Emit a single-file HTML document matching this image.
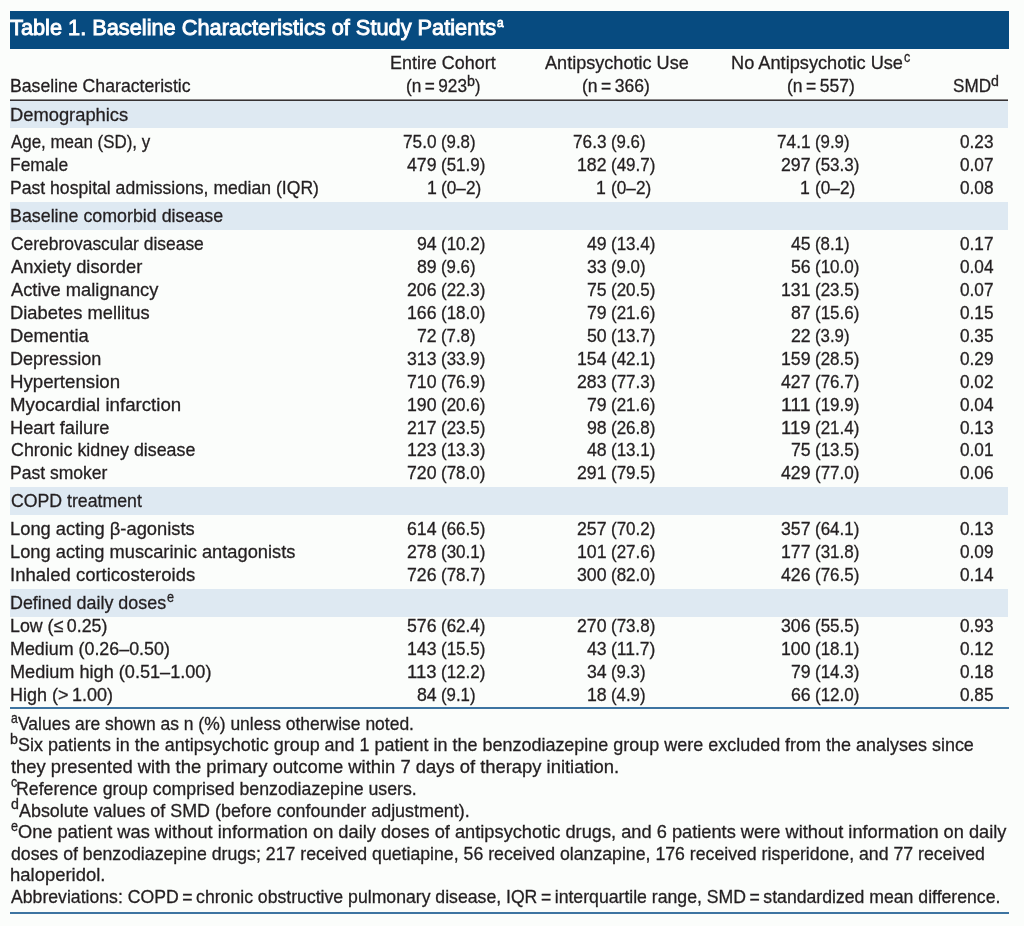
<!DOCTYPE html>
<html><head><meta charset="utf-8"><title>Table 1</title><style>
html,body{margin:0;padding:0;}
body{width:1024px;height:926px;position:relative;overflow:hidden;background:#fbfdfb;font-family:"Liberation Sans",sans-serif;color:#231f20;}
#root{position:absolute;left:0;top:0;width:1024px;height:926px;will-change:transform;}
.t{position:absolute;white-space:pre;transform-origin:0 0;-webkit-text-stroke:0.3px #231f20;}
.ti{-webkit-text-stroke:0.9px #ffffff;}
.bar{position:absolute;left:10px;top:11px;width:999px;height:38px;background:#074b80;}
.band{position:absolute;left:10px;width:998px;background:#dee9f2;}
.rule{position:absolute;left:10px;width:998px;}
</style></head>
<body>
<div id="root">

<div class="bar"></div>
<div class="rule" style="top:99px;height:1px;background:#8a8889;"></div>
<div class="rule" style="top:100px;height:1px;background:#363233;"></div>
<div class="band" style="top:101px;height:27px;"></div>
<div class="band" style="top:202px;height:28px;"></div>
<div class="band" style="top:487px;height:28px;"></div>
<div class="band" style="top:589px;height:28px;"></div>
<div class="rule" style="top:707px;height:2px;width:999px;background:#3d74a1;"></div>
<div class="rule" style="top:912px;height:2px;width:999px;background:#3d74a1;"></div>

<div class="t ti" style="left:10.20px;top:17.00px;font-size:21.6px;line-height:21.6px;transform:scaleX(1.0076);color:#ffffff;"><span style="font-size:21.6px;">Table 1. Baseline Characteristics of Study Patients</span></div>
<div class="t ti" style="left:496.90px;top:16.20px;font-size:13.5px;line-height:13.5px;transform:scaleX(0.8782);color:#ffffff;"><span style="font-size:13.5px;">a</span></div>
<div class="t" style="left:389.59px;top:54.30px;font-size:18.6px;line-height:18.6px;transform:scaleX(0.9641);"><span style="font-size:18.6px;">Entire Cohort</span></div>
<div class="t" style="left:544.51px;top:54.30px;font-size:18.6px;line-height:18.6px;transform:scaleX(0.9730);"><span style="font-size:18.6px;">Antipsychotic Use</span></div>
<div class="t" style="left:731.31px;top:54.30px;font-size:18.6px;line-height:18.6px;transform:scaleX(0.9790);"><span style="font-size:18.6px;">No Antipsychotic Use</span></div>
<div class="t" style="left:903.57px;top:51.10px;font-size:13.9px;line-height:13.9px;transform:scaleX(0.9020);"><span style="font-size:13.9px;">c</span></div>
<div class="t" style="left:9.85px;top:77.40px;font-size:18.6px;line-height:18.6px;transform:scaleX(0.9494);"><span style="font-size:18.6px;">Baseline Characteristic</span></div>
<div class="t" style="left:405.60px;top:77.40px;font-size:18.6px;line-height:18.6px;transform:scaleX(0.9262);"><span style="font-size:18.6px;">(n = 923</span></div>
<div class="t" style="left:467.28px;top:74.60px;font-size:13.9px;line-height:13.9px;transform:scaleX(1.0299);"><span style="font-size:13.9px;">b</span></div>
<div class="t" style="left:474.80px;top:77.40px;font-size:18.6px;line-height:18.6px;transform:scaleX(0.8790);"><span style="font-size:18.6px;">)</span></div>
<div class="t" style="left:581.94px;top:77.40px;font-size:18.6px;line-height:18.6px;transform:scaleX(0.9426);"><span style="font-size:18.6px;">(n = 366)</span></div>
<div class="t" style="left:786.79px;top:77.40px;font-size:18.6px;line-height:18.6px;transform:scaleX(0.9426);"><span style="font-size:18.6px;">(n = 557)</span></div>
<div class="t" style="left:953.00px;top:77.40px;font-size:18.6px;line-height:18.6px;transform:scaleX(0.9195);"><span style="font-size:18.6px;">SMD</span></div>
<div class="t" style="left:991.20px;top:74.55px;font-size:13.9px;line-height:13.9px;transform:scaleX(1.0209);"><span style="font-size:13.9px;">d</span></div>
<div class="t" style="left:10.00px;top:105.60px;font-size:18.6px;line-height:18.6px;transform:scaleX(0.9859);"><span style="font-size:18.6px;">Demographics</span></div>
<div class="t" style="left:11.47px;top:133.20px;font-size:18.6px;line-height:18.6px;transform:scaleX(0.9102);"><span style="font-size:18.6px;">Age, mean (SD), y</span></div>
<div class="t" style="left:402.88px;top:133.20px;font-size:18.6px;line-height:18.6px;transform:scaleX(0.9260);"><span style="font-size:18.6px;">75.0</span></div>
<div class="t" style="left:441.00px;top:133.20px;font-size:18.6px;line-height:18.6px;transform:scaleX(0.9044);"><span style="font-size:18.6px;">(9.8)</span></div>
<div class="t" style="left:572.78px;top:133.20px;font-size:18.6px;line-height:18.6px;transform:scaleX(0.9260);"><span style="font-size:18.6px;">76.3</span></div>
<div class="t" style="left:610.90px;top:133.20px;font-size:18.6px;line-height:18.6px;transform:scaleX(0.9044);"><span style="font-size:18.6px;">(9.6)</span></div>
<div class="t" style="left:776.68px;top:133.20px;font-size:18.6px;line-height:18.6px;transform:scaleX(0.9260);"><span style="font-size:18.6px;">74.1</span></div>
<div class="t" style="left:814.80px;top:133.20px;font-size:18.6px;line-height:18.6px;transform:scaleX(0.9044);"><span style="font-size:18.6px;">(9.9)</span></div>
<div class="t" style="left:959.60px;top:133.20px;font-size:18.6px;line-height:18.6px;transform:scaleX(0.9260);"><span style="font-size:18.6px;">0.23</span></div>
<div class="t" style="left:10.07px;top:156.30px;font-size:18.6px;line-height:18.6px;transform:scaleX(0.9367);"><span style="font-size:18.6px;">Female</span></div>
<div class="t" style="left:406.85px;top:156.30px;font-size:18.6px;line-height:18.6px;transform:scaleX(0.9522);"><span style="font-size:18.6px;">479</span></div>
<div class="t" style="left:441.00px;top:156.30px;font-size:18.6px;line-height:18.6px;transform:scaleX(0.9146);"><span style="font-size:18.6px;">(51.9)</span></div>
<div class="t" style="left:576.75px;top:156.30px;font-size:18.6px;line-height:18.6px;transform:scaleX(0.9522);"><span style="font-size:18.6px;">182</span></div>
<div class="t" style="left:610.90px;top:156.30px;font-size:18.6px;line-height:18.6px;transform:scaleX(0.9146);"><span style="font-size:18.6px;">(49.7)</span></div>
<div class="t" style="left:780.65px;top:156.30px;font-size:18.6px;line-height:18.6px;transform:scaleX(0.9522);"><span style="font-size:18.6px;">297</span></div>
<div class="t" style="left:814.80px;top:156.30px;font-size:18.6px;line-height:18.6px;transform:scaleX(0.9146);"><span style="font-size:18.6px;">(53.3)</span></div>
<div class="t" style="left:959.60px;top:156.30px;font-size:18.6px;line-height:18.6px;transform:scaleX(0.9260);"><span style="font-size:18.6px;">0.07</span></div>
<div class="t" style="left:10.06px;top:179.30px;font-size:18.6px;line-height:18.6px;transform:scaleX(0.9461);"><span style="font-size:18.6px;">Past hospital admissions, median (IQR)</span></div>
<div class="t" style="left:426.55px;top:179.30px;font-size:18.6px;line-height:18.6px;transform:scaleX(0.9522);"><span style="font-size:18.6px;">1</span></div>
<div class="t" style="left:441.00px;top:179.30px;font-size:18.6px;line-height:18.6px;transform:scaleX(0.9259);"><span style="font-size:18.6px;">(0–2)</span></div>
<div class="t" style="left:596.45px;top:179.30px;font-size:18.6px;line-height:18.6px;transform:scaleX(0.9522);"><span style="font-size:18.6px;">1</span></div>
<div class="t" style="left:610.90px;top:179.30px;font-size:18.6px;line-height:18.6px;transform:scaleX(0.9259);"><span style="font-size:18.6px;">(0–2)</span></div>
<div class="t" style="left:800.35px;top:179.30px;font-size:18.6px;line-height:18.6px;transform:scaleX(0.9522);"><span style="font-size:18.6px;">1</span></div>
<div class="t" style="left:814.80px;top:179.30px;font-size:18.6px;line-height:18.6px;transform:scaleX(0.9259);"><span style="font-size:18.6px;">(0–2)</span></div>
<div class="t" style="left:959.60px;top:179.30px;font-size:18.6px;line-height:18.6px;transform:scaleX(0.9260);"><span style="font-size:18.6px;">0.08</span></div>
<div class="t" style="left:10.04px;top:206.80px;font-size:18.6px;line-height:18.6px;transform:scaleX(0.9593);"><span style="font-size:18.6px;">Baseline comorbid disease</span></div>
<div class="t" style="left:10.61px;top:234.50px;font-size:18.6px;line-height:18.6px;transform:scaleX(0.9375);"><span style="font-size:18.6px;">Cerebrovascular disease</span></div>
<div class="t" style="left:416.70px;top:234.50px;font-size:18.6px;line-height:18.6px;transform:scaleX(0.9522);"><span style="font-size:18.6px;">94</span></div>
<div class="t" style="left:441.00px;top:234.50px;font-size:18.6px;line-height:18.6px;transform:scaleX(0.9146);"><span style="font-size:18.6px;">(10.2)</span></div>
<div class="t" style="left:586.60px;top:234.50px;font-size:18.6px;line-height:18.6px;transform:scaleX(0.9522);"><span style="font-size:18.6px;">49</span></div>
<div class="t" style="left:610.90px;top:234.50px;font-size:18.6px;line-height:18.6px;transform:scaleX(0.9146);"><span style="font-size:18.6px;">(13.4)</span></div>
<div class="t" style="left:790.50px;top:234.50px;font-size:18.6px;line-height:18.6px;transform:scaleX(0.9522);"><span style="font-size:18.6px;">45</span></div>
<div class="t" style="left:814.80px;top:234.50px;font-size:18.6px;line-height:18.6px;transform:scaleX(0.9044);"><span style="font-size:18.6px;">(8.1)</span></div>
<div class="t" style="left:959.60px;top:234.50px;font-size:18.6px;line-height:18.6px;transform:scaleX(0.9260);"><span style="font-size:18.6px;">0.17</span></div>
<div class="t" style="left:11.46px;top:257.60px;font-size:18.6px;line-height:18.6px;transform:scaleX(0.9851);"><span style="font-size:18.6px;">Anxiety disorder</span></div>
<div class="t" style="left:416.70px;top:257.60px;font-size:18.6px;line-height:18.6px;transform:scaleX(0.9522);"><span style="font-size:18.6px;">89</span></div>
<div class="t" style="left:441.00px;top:257.60px;font-size:18.6px;line-height:18.6px;transform:scaleX(0.9044);"><span style="font-size:18.6px;">(9.6)</span></div>
<div class="t" style="left:586.60px;top:257.60px;font-size:18.6px;line-height:18.6px;transform:scaleX(0.9522);"><span style="font-size:18.6px;">33</span></div>
<div class="t" style="left:610.90px;top:257.60px;font-size:18.6px;line-height:18.6px;transform:scaleX(0.9044);"><span style="font-size:18.6px;">(9.0)</span></div>
<div class="t" style="left:790.50px;top:257.60px;font-size:18.6px;line-height:18.6px;transform:scaleX(0.9522);"><span style="font-size:18.6px;">56</span></div>
<div class="t" style="left:814.80px;top:257.60px;font-size:18.6px;line-height:18.6px;transform:scaleX(0.9146);"><span style="font-size:18.6px;">(10.0)</span></div>
<div class="t" style="left:959.60px;top:257.60px;font-size:18.6px;line-height:18.6px;transform:scaleX(0.9260);"><span style="font-size:18.6px;">0.04</span></div>
<div class="t" style="left:11.46px;top:280.80px;font-size:18.6px;line-height:18.6px;transform:scaleX(0.9833);"><span style="font-size:18.6px;">Active malignancy</span></div>
<div class="t" style="left:406.85px;top:280.80px;font-size:18.6px;line-height:18.6px;transform:scaleX(0.9522);"><span style="font-size:18.6px;">206</span></div>
<div class="t" style="left:441.00px;top:280.80px;font-size:18.6px;line-height:18.6px;transform:scaleX(0.9146);"><span style="font-size:18.6px;">(22.3)</span></div>
<div class="t" style="left:586.60px;top:280.80px;font-size:18.6px;line-height:18.6px;transform:scaleX(0.9522);"><span style="font-size:18.6px;">75</span></div>
<div class="t" style="left:610.90px;top:280.80px;font-size:18.6px;line-height:18.6px;transform:scaleX(0.9146);"><span style="font-size:18.6px;">(20.5)</span></div>
<div class="t" style="left:780.65px;top:280.80px;font-size:18.6px;line-height:18.6px;transform:scaleX(0.9522);"><span style="font-size:18.6px;">131</span></div>
<div class="t" style="left:814.80px;top:280.80px;font-size:18.6px;line-height:18.6px;transform:scaleX(0.9146);"><span style="font-size:18.6px;">(23.5)</span></div>
<div class="t" style="left:959.60px;top:280.80px;font-size:18.6px;line-height:18.6px;transform:scaleX(0.9260);"><span style="font-size:18.6px;">0.07</span></div>
<div class="t" style="left:10.00px;top:303.90px;font-size:18.6px;line-height:18.6px;transform:scaleX(0.9857);"><span style="font-size:18.6px;">Diabetes mellitus</span></div>
<div class="t" style="left:406.85px;top:303.90px;font-size:18.6px;line-height:18.6px;transform:scaleX(0.9522);"><span style="font-size:18.6px;">166</span></div>
<div class="t" style="left:441.00px;top:303.90px;font-size:18.6px;line-height:18.6px;transform:scaleX(0.9146);"><span style="font-size:18.6px;">(18.0)</span></div>
<div class="t" style="left:586.60px;top:303.90px;font-size:18.6px;line-height:18.6px;transform:scaleX(0.9522);"><span style="font-size:18.6px;">79</span></div>
<div class="t" style="left:610.90px;top:303.90px;font-size:18.6px;line-height:18.6px;transform:scaleX(0.9146);"><span style="font-size:18.6px;">(21.6)</span></div>
<div class="t" style="left:790.50px;top:303.90px;font-size:18.6px;line-height:18.6px;transform:scaleX(0.9522);"><span style="font-size:18.6px;">87</span></div>
<div class="t" style="left:814.80px;top:303.90px;font-size:18.6px;line-height:18.6px;transform:scaleX(0.9146);"><span style="font-size:18.6px;">(15.6)</span></div>
<div class="t" style="left:959.60px;top:303.90px;font-size:18.6px;line-height:18.6px;transform:scaleX(0.9260);"><span style="font-size:18.6px;">0.15</span></div>
<div class="t" style="left:9.99px;top:326.80px;font-size:18.6px;line-height:18.6px;transform:scaleX(0.9902);"><span style="font-size:18.6px;">Dementia</span></div>
<div class="t" style="left:416.70px;top:326.80px;font-size:18.6px;line-height:18.6px;transform:scaleX(0.9522);"><span style="font-size:18.6px;">72</span></div>
<div class="t" style="left:441.00px;top:326.80px;font-size:18.6px;line-height:18.6px;transform:scaleX(0.9044);"><span style="font-size:18.6px;">(7.8)</span></div>
<div class="t" style="left:586.60px;top:326.80px;font-size:18.6px;line-height:18.6px;transform:scaleX(0.9522);"><span style="font-size:18.6px;">50</span></div>
<div class="t" style="left:610.90px;top:326.80px;font-size:18.6px;line-height:18.6px;transform:scaleX(0.9146);"><span style="font-size:18.6px;">(13.7)</span></div>
<div class="t" style="left:790.50px;top:326.80px;font-size:18.6px;line-height:18.6px;transform:scaleX(0.9522);"><span style="font-size:18.6px;">22</span></div>
<div class="t" style="left:814.80px;top:326.80px;font-size:18.6px;line-height:18.6px;transform:scaleX(0.9044);"><span style="font-size:18.6px;">(3.9)</span></div>
<div class="t" style="left:959.60px;top:326.80px;font-size:18.6px;line-height:18.6px;transform:scaleX(0.9260);"><span style="font-size:18.6px;">0.35</span></div>
<div class="t" style="left:10.02px;top:349.80px;font-size:18.6px;line-height:18.6px;transform:scaleX(0.9698);"><span style="font-size:18.6px;">Depression</span></div>
<div class="t" style="left:406.85px;top:349.80px;font-size:18.6px;line-height:18.6px;transform:scaleX(0.9522);"><span style="font-size:18.6px;">313</span></div>
<div class="t" style="left:441.00px;top:349.80px;font-size:18.6px;line-height:18.6px;transform:scaleX(0.9146);"><span style="font-size:18.6px;">(33.9)</span></div>
<div class="t" style="left:576.75px;top:349.80px;font-size:18.6px;line-height:18.6px;transform:scaleX(0.9522);"><span style="font-size:18.6px;">154</span></div>
<div class="t" style="left:610.90px;top:349.80px;font-size:18.6px;line-height:18.6px;transform:scaleX(0.9146);"><span style="font-size:18.6px;">(42.1)</span></div>
<div class="t" style="left:780.65px;top:349.80px;font-size:18.6px;line-height:18.6px;transform:scaleX(0.9522);"><span style="font-size:18.6px;">159</span></div>
<div class="t" style="left:814.80px;top:349.80px;font-size:18.6px;line-height:18.6px;transform:scaleX(0.9146);"><span style="font-size:18.6px;">(28.5)</span></div>
<div class="t" style="left:959.60px;top:349.80px;font-size:18.6px;line-height:18.6px;transform:scaleX(0.9260);"><span style="font-size:18.6px;">0.29</span></div>
<div class="t" style="left:9.97px;top:373.00px;font-size:18.6px;line-height:18.6px;transform:scaleX(1.0050);"><span style="font-size:18.6px;">Hypertension</span></div>
<div class="t" style="left:406.85px;top:373.00px;font-size:18.6px;line-height:18.6px;transform:scaleX(0.9522);"><span style="font-size:18.6px;">710</span></div>
<div class="t" style="left:441.00px;top:373.00px;font-size:18.6px;line-height:18.6px;transform:scaleX(0.9146);"><span style="font-size:18.6px;">(76.9)</span></div>
<div class="t" style="left:576.75px;top:373.00px;font-size:18.6px;line-height:18.6px;transform:scaleX(0.9522);"><span style="font-size:18.6px;">283</span></div>
<div class="t" style="left:610.90px;top:373.00px;font-size:18.6px;line-height:18.6px;transform:scaleX(0.9146);"><span style="font-size:18.6px;">(77.3)</span></div>
<div class="t" style="left:780.65px;top:373.00px;font-size:18.6px;line-height:18.6px;transform:scaleX(0.9522);"><span style="font-size:18.6px;">427</span></div>
<div class="t" style="left:814.80px;top:373.00px;font-size:18.6px;line-height:18.6px;transform:scaleX(0.9146);"><span style="font-size:18.6px;">(76.7)</span></div>
<div class="t" style="left:959.60px;top:373.00px;font-size:18.6px;line-height:18.6px;transform:scaleX(0.9260);"><span style="font-size:18.6px;">0.02</span></div>
<div class="t" style="left:9.97px;top:395.90px;font-size:18.6px;line-height:18.6px;transform:scaleX(1.0038);"><span style="font-size:18.6px;">Myocardial infarction</span></div>
<div class="t" style="left:406.85px;top:395.90px;font-size:18.6px;line-height:18.6px;transform:scaleX(0.9522);"><span style="font-size:18.6px;">190</span></div>
<div class="t" style="left:441.00px;top:395.90px;font-size:18.6px;line-height:18.6px;transform:scaleX(0.9146);"><span style="font-size:18.6px;">(20.6)</span></div>
<div class="t" style="left:586.60px;top:395.90px;font-size:18.6px;line-height:18.6px;transform:scaleX(0.9522);"><span style="font-size:18.6px;">79</span></div>
<div class="t" style="left:610.90px;top:395.90px;font-size:18.6px;line-height:18.6px;transform:scaleX(0.9146);"><span style="font-size:18.6px;">(21.6)</span></div>
<div class="t" style="left:780.65px;top:395.90px;font-size:18.6px;line-height:18.6px;transform:scaleX(1.0454);"><span style="font-size:18.6px;">111</span></div>
<div class="t" style="left:814.80px;top:395.90px;font-size:18.6px;line-height:18.6px;transform:scaleX(0.9146);"><span style="font-size:18.6px;">(19.9)</span></div>
<div class="t" style="left:959.60px;top:395.90px;font-size:18.6px;line-height:18.6px;transform:scaleX(0.9260);"><span style="font-size:18.6px;">0.04</span></div>
<div class="t" style="left:10.00px;top:418.70px;font-size:18.6px;line-height:18.6px;transform:scaleX(0.9820);"><span style="font-size:18.6px;">Heart failure</span></div>
<div class="t" style="left:406.85px;top:418.70px;font-size:18.6px;line-height:18.6px;transform:scaleX(0.9522);"><span style="font-size:18.6px;">217</span></div>
<div class="t" style="left:441.00px;top:418.70px;font-size:18.6px;line-height:18.6px;transform:scaleX(0.9146);"><span style="font-size:18.6px;">(23.5)</span></div>
<div class="t" style="left:586.60px;top:418.70px;font-size:18.6px;line-height:18.6px;transform:scaleX(0.9522);"><span style="font-size:18.6px;">98</span></div>
<div class="t" style="left:610.90px;top:418.70px;font-size:18.6px;line-height:18.6px;transform:scaleX(0.9146);"><span style="font-size:18.6px;">(26.8)</span></div>
<div class="t" style="left:780.65px;top:418.70px;font-size:18.6px;line-height:18.6px;transform:scaleX(0.9964);"><span style="font-size:18.6px;">119</span></div>
<div class="t" style="left:814.80px;top:418.70px;font-size:18.6px;line-height:18.6px;transform:scaleX(0.9146);"><span style="font-size:18.6px;">(21.4)</span></div>
<div class="t" style="left:959.60px;top:418.70px;font-size:18.6px;line-height:18.6px;transform:scaleX(0.9260);"><span style="font-size:18.6px;">0.13</span></div>
<div class="t" style="left:10.59px;top:441.30px;font-size:18.6px;line-height:18.6px;transform:scaleX(0.9590);"><span style="font-size:18.6px;">Chronic kidney disease</span></div>
<div class="t" style="left:406.85px;top:441.30px;font-size:18.6px;line-height:18.6px;transform:scaleX(0.9522);"><span style="font-size:18.6px;">123</span></div>
<div class="t" style="left:441.00px;top:441.30px;font-size:18.6px;line-height:18.6px;transform:scaleX(0.9146);"><span style="font-size:18.6px;">(13.3)</span></div>
<div class="t" style="left:586.60px;top:441.30px;font-size:18.6px;line-height:18.6px;transform:scaleX(0.9522);"><span style="font-size:18.6px;">48</span></div>
<div class="t" style="left:610.90px;top:441.30px;font-size:18.6px;line-height:18.6px;transform:scaleX(0.9146);"><span style="font-size:18.6px;">(13.1)</span></div>
<div class="t" style="left:790.50px;top:441.30px;font-size:18.6px;line-height:18.6px;transform:scaleX(0.9522);"><span style="font-size:18.6px;">75</span></div>
<div class="t" style="left:814.80px;top:441.30px;font-size:18.6px;line-height:18.6px;transform:scaleX(0.9146);"><span style="font-size:18.6px;">(13.5)</span></div>
<div class="t" style="left:959.60px;top:441.30px;font-size:18.6px;line-height:18.6px;transform:scaleX(0.9260);"><span style="font-size:18.6px;">0.01</span></div>
<div class="t" style="left:10.06px;top:464.00px;font-size:18.6px;line-height:18.6px;transform:scaleX(0.9422);"><span style="font-size:18.6px;">Past smoker</span></div>
<div class="t" style="left:406.85px;top:464.00px;font-size:18.6px;line-height:18.6px;transform:scaleX(0.9522);"><span style="font-size:18.6px;">720</span></div>
<div class="t" style="left:441.00px;top:464.00px;font-size:18.6px;line-height:18.6px;transform:scaleX(0.9146);"><span style="font-size:18.6px;">(78.0)</span></div>
<div class="t" style="left:576.75px;top:464.00px;font-size:18.6px;line-height:18.6px;transform:scaleX(0.9522);"><span style="font-size:18.6px;">291</span></div>
<div class="t" style="left:610.90px;top:464.00px;font-size:18.6px;line-height:18.6px;transform:scaleX(0.9146);"><span style="font-size:18.6px;">(79.5)</span></div>
<div class="t" style="left:780.65px;top:464.00px;font-size:18.6px;line-height:18.6px;transform:scaleX(0.9522);"><span style="font-size:18.6px;">429</span></div>
<div class="t" style="left:814.80px;top:464.00px;font-size:18.6px;line-height:18.6px;transform:scaleX(0.9146);"><span style="font-size:18.6px;">(77.0)</span></div>
<div class="t" style="left:959.60px;top:464.00px;font-size:18.6px;line-height:18.6px;transform:scaleX(0.9260);"><span style="font-size:18.6px;">0.06</span></div>
<div class="t" style="left:10.60px;top:492.10px;font-size:18.6px;line-height:18.6px;transform:scaleX(0.9520);"><span style="font-size:18.6px;">COPD treatment</span></div>
<div class="t" style="left:10.00px;top:520.20px;font-size:18.6px;line-height:18.6px;transform:scaleX(0.9854);"><span style="font-size:18.6px;">Long acting β-agonists</span></div>
<div class="t" style="left:406.85px;top:520.20px;font-size:18.6px;line-height:18.6px;transform:scaleX(0.9522);"><span style="font-size:18.6px;">614</span></div>
<div class="t" style="left:441.00px;top:520.20px;font-size:18.6px;line-height:18.6px;transform:scaleX(0.9146);"><span style="font-size:18.6px;">(66.5)</span></div>
<div class="t" style="left:576.75px;top:520.20px;font-size:18.6px;line-height:18.6px;transform:scaleX(0.9522);"><span style="font-size:18.6px;">257</span></div>
<div class="t" style="left:610.90px;top:520.20px;font-size:18.6px;line-height:18.6px;transform:scaleX(0.9146);"><span style="font-size:18.6px;">(70.2)</span></div>
<div class="t" style="left:780.65px;top:520.20px;font-size:18.6px;line-height:18.6px;transform:scaleX(0.9522);"><span style="font-size:18.6px;">357</span></div>
<div class="t" style="left:814.80px;top:520.20px;font-size:18.6px;line-height:18.6px;transform:scaleX(0.9146);"><span style="font-size:18.6px;">(64.1)</span></div>
<div class="t" style="left:959.60px;top:520.20px;font-size:18.6px;line-height:18.6px;transform:scaleX(0.9260);"><span style="font-size:18.6px;">0.13</span></div>
<div class="t" style="left:10.00px;top:543.20px;font-size:18.6px;line-height:18.6px;transform:scaleX(0.9826);"><span style="font-size:18.6px;">Long acting muscarinic antagonists</span></div>
<div class="t" style="left:406.85px;top:543.20px;font-size:18.6px;line-height:18.6px;transform:scaleX(0.9522);"><span style="font-size:18.6px;">278</span></div>
<div class="t" style="left:441.00px;top:543.20px;font-size:18.6px;line-height:18.6px;transform:scaleX(0.9146);"><span style="font-size:18.6px;">(30.1)</span></div>
<div class="t" style="left:576.75px;top:543.20px;font-size:18.6px;line-height:18.6px;transform:scaleX(0.9522);"><span style="font-size:18.6px;">101</span></div>
<div class="t" style="left:610.90px;top:543.20px;font-size:18.6px;line-height:18.6px;transform:scaleX(0.9146);"><span style="font-size:18.6px;">(27.6)</span></div>
<div class="t" style="left:780.65px;top:543.20px;font-size:18.6px;line-height:18.6px;transform:scaleX(0.9522);"><span style="font-size:18.6px;">177</span></div>
<div class="t" style="left:814.80px;top:543.20px;font-size:18.6px;line-height:18.6px;transform:scaleX(0.9146);"><span style="font-size:18.6px;">(31.8)</span></div>
<div class="t" style="left:959.60px;top:543.20px;font-size:18.6px;line-height:18.6px;transform:scaleX(0.9260);"><span style="font-size:18.6px;">0.09</span></div>
<div class="t" style="left:9.79px;top:566.00px;font-size:18.6px;line-height:18.6px;transform:scaleX(0.9957);"><span style="font-size:18.6px;">Inhaled corticosteroids</span></div>
<div class="t" style="left:406.85px;top:566.00px;font-size:18.6px;line-height:18.6px;transform:scaleX(0.9522);"><span style="font-size:18.6px;">726</span></div>
<div class="t" style="left:441.00px;top:566.00px;font-size:18.6px;line-height:18.6px;transform:scaleX(0.9146);"><span style="font-size:18.6px;">(78.7)</span></div>
<div class="t" style="left:576.75px;top:566.00px;font-size:18.6px;line-height:18.6px;transform:scaleX(0.9522);"><span style="font-size:18.6px;">300</span></div>
<div class="t" style="left:610.90px;top:566.00px;font-size:18.6px;line-height:18.6px;transform:scaleX(0.9146);"><span style="font-size:18.6px;">(82.0)</span></div>
<div class="t" style="left:780.65px;top:566.00px;font-size:18.6px;line-height:18.6px;transform:scaleX(0.9522);"><span style="font-size:18.6px;">426</span></div>
<div class="t" style="left:814.80px;top:566.00px;font-size:18.6px;line-height:18.6px;transform:scaleX(0.9146);"><span style="font-size:18.6px;">(76.5)</span></div>
<div class="t" style="left:959.60px;top:566.00px;font-size:18.6px;line-height:18.6px;transform:scaleX(0.9260);"><span style="font-size:18.6px;">0.14</span></div>
<div class="t" style="left:10.03px;top:593.90px;font-size:18.6px;line-height:18.6px;transform:scaleX(0.9619);"><span style="font-size:18.6px;">Defined daily doses</span></div>
<div class="t" style="left:167.36px;top:590.70px;font-size:13.9px;line-height:13.9px;transform:scaleX(0.9069);"><span style="font-size:13.9px;">e</span></div>
<div class="t" style="left:10.04px;top:616.70px;font-size:18.6px;line-height:18.6px;transform:scaleX(0.9566);"><span style="font-size:18.6px;">Low (≤ 0.25)</span></div>
<div class="t" style="left:406.85px;top:616.70px;font-size:18.6px;line-height:18.6px;transform:scaleX(0.9522);"><span style="font-size:18.6px;">576</span></div>
<div class="t" style="left:441.00px;top:616.70px;font-size:18.6px;line-height:18.6px;transform:scaleX(0.9146);"><span style="font-size:18.6px;">(62.4)</span></div>
<div class="t" style="left:576.75px;top:616.70px;font-size:18.6px;line-height:18.6px;transform:scaleX(0.9522);"><span style="font-size:18.6px;">270</span></div>
<div class="t" style="left:610.90px;top:616.70px;font-size:18.6px;line-height:18.6px;transform:scaleX(0.9146);"><span style="font-size:18.6px;">(73.8)</span></div>
<div class="t" style="left:780.65px;top:616.70px;font-size:18.6px;line-height:18.6px;transform:scaleX(0.9522);"><span style="font-size:18.6px;">306</span></div>
<div class="t" style="left:814.80px;top:616.70px;font-size:18.6px;line-height:18.6px;transform:scaleX(0.9146);"><span style="font-size:18.6px;">(55.5)</span></div>
<div class="t" style="left:959.60px;top:616.70px;font-size:18.6px;line-height:18.6px;transform:scaleX(0.9260);"><span style="font-size:18.6px;">0.93</span></div>
<div class="t" style="left:10.03px;top:639.80px;font-size:18.6px;line-height:18.6px;transform:scaleX(0.9609);"><span style="font-size:18.6px;">Medium (0.26–0.50)</span></div>
<div class="t" style="left:406.85px;top:639.80px;font-size:18.6px;line-height:18.6px;transform:scaleX(0.9522);"><span style="font-size:18.6px;">143</span></div>
<div class="t" style="left:441.00px;top:639.80px;font-size:18.6px;line-height:18.6px;transform:scaleX(0.9146);"><span style="font-size:18.6px;">(15.5)</span></div>
<div class="t" style="left:586.60px;top:639.80px;font-size:18.6px;line-height:18.6px;transform:scaleX(0.9522);"><span style="font-size:18.6px;">43</span></div>
<div class="t" style="left:610.90px;top:639.80px;font-size:18.6px;line-height:18.6px;transform:scaleX(0.9412);"><span style="font-size:18.6px;">(11.7)</span></div>
<div class="t" style="left:780.65px;top:639.80px;font-size:18.6px;line-height:18.6px;transform:scaleX(0.9522);"><span style="font-size:18.6px;">100</span></div>
<div class="t" style="left:814.80px;top:639.80px;font-size:18.6px;line-height:18.6px;transform:scaleX(0.9146);"><span style="font-size:18.6px;">(18.1)</span></div>
<div class="t" style="left:959.60px;top:639.80px;font-size:18.6px;line-height:18.6px;transform:scaleX(0.9260);"><span style="font-size:18.6px;">0.12</span></div>
<div class="t" style="left:10.01px;top:662.70px;font-size:18.6px;line-height:18.6px;transform:scaleX(0.9747);"><span style="font-size:18.6px;">Medium high (0.51–1.00)</span></div>
<div class="t" style="left:406.85px;top:662.70px;font-size:18.6px;line-height:18.6px;transform:scaleX(0.9964);"><span style="font-size:18.6px;">113</span></div>
<div class="t" style="left:441.00px;top:662.70px;font-size:18.6px;line-height:18.6px;transform:scaleX(0.9146);"><span style="font-size:18.6px;">(12.2)</span></div>
<div class="t" style="left:586.60px;top:662.70px;font-size:18.6px;line-height:18.6px;transform:scaleX(0.9522);"><span style="font-size:18.6px;">34</span></div>
<div class="t" style="left:610.90px;top:662.70px;font-size:18.6px;line-height:18.6px;transform:scaleX(0.9044);"><span style="font-size:18.6px;">(9.3)</span></div>
<div class="t" style="left:790.50px;top:662.70px;font-size:18.6px;line-height:18.6px;transform:scaleX(0.9522);"><span style="font-size:18.6px;">79</span></div>
<div class="t" style="left:814.80px;top:662.70px;font-size:18.6px;line-height:18.6px;transform:scaleX(0.9146);"><span style="font-size:18.6px;">(14.3)</span></div>
<div class="t" style="left:959.60px;top:662.70px;font-size:18.6px;line-height:18.6px;transform:scaleX(0.9260);"><span style="font-size:18.6px;">0.18</span></div>
<div class="t" style="left:10.02px;top:685.70px;font-size:18.6px;line-height:18.6px;transform:scaleX(0.9669);"><span style="font-size:18.6px;">High (&gt; 1.00)</span></div>
<div class="t" style="left:416.70px;top:685.70px;font-size:18.6px;line-height:18.6px;transform:scaleX(0.9522);"><span style="font-size:18.6px;">84</span></div>
<div class="t" style="left:441.00px;top:685.70px;font-size:18.6px;line-height:18.6px;transform:scaleX(0.9044);"><span style="font-size:18.6px;">(9.1)</span></div>
<div class="t" style="left:586.60px;top:685.70px;font-size:18.6px;line-height:18.6px;transform:scaleX(0.9522);"><span style="font-size:18.6px;">18</span></div>
<div class="t" style="left:610.90px;top:685.70px;font-size:18.6px;line-height:18.6px;transform:scaleX(0.9044);"><span style="font-size:18.6px;">(4.9)</span></div>
<div class="t" style="left:790.50px;top:685.70px;font-size:18.6px;line-height:18.6px;transform:scaleX(0.9522);"><span style="font-size:18.6px;">66</span></div>
<div class="t" style="left:814.80px;top:685.70px;font-size:18.6px;line-height:18.6px;transform:scaleX(0.9146);"><span style="font-size:18.6px;">(12.0)</span></div>
<div class="t" style="left:959.60px;top:685.70px;font-size:18.6px;line-height:18.6px;transform:scaleX(0.9260);"><span style="font-size:18.6px;">0.85</span></div>
<div class="t" style="left:10.88px;top:711.80px;font-size:13.9px;line-height:13.9px;transform:scaleX(0.8725);"><span style="font-size:13.9px;">a</span></div>
<div class="t" style="left:18.12px;top:715.10px;font-size:18.6px;line-height:18.6px;transform:scaleX(0.9398);"><span style="font-size:18.6px;">Values are shown as n (%) unless otherwise noted.</span></div>
<div class="t" style="left:10.48px;top:733.00px;font-size:13.9px;line-height:13.9px;transform:scaleX(1.0299);"><span style="font-size:13.9px;">b</span></div>
<div class="t" style="left:18.38px;top:736.30px;font-size:18.6px;line-height:18.6px;transform:scaleX(0.9663);"><span style="font-size:18.6px;">Six patients in the antipsychotic group and 1 patient in the benzodiazepine group were excluded from the analyses since</span></div>
<div class="t" style="left:11.22px;top:757.50px;font-size:18.6px;line-height:18.6px;transform:scaleX(0.9890);"><span style="font-size:18.6px;">they presented with the primary outcome within 7 days of therapy initiation.</span></div>
<div class="t" style="left:10.87px;top:776.40px;font-size:13.9px;line-height:13.9px;transform:scaleX(0.9020);"><span style="font-size:13.9px;">c</span></div>
<div class="t" style="left:16.35px;top:779.70px;font-size:18.6px;line-height:18.6px;transform:scaleX(0.9526);"><span style="font-size:18.6px;">Reference group comprised benzodiazepine users.</span></div>
<div class="t" style="left:10.80px;top:798.40px;font-size:13.9px;line-height:13.9px;transform:scaleX(1.0209);"><span style="font-size:13.9px;">d</span></div>
<div class="t" style="left:19.27px;top:801.70px;font-size:18.6px;line-height:18.6px;transform:scaleX(0.9627);"><span style="font-size:18.6px;">Absolute values of SMD (before confounder adjustment).</span></div>
<div class="t" style="left:10.86px;top:819.60px;font-size:13.9px;line-height:13.9px;transform:scaleX(0.9069);"><span style="font-size:13.9px;">e</span></div>
<div class="t" style="left:17.74px;top:822.90px;font-size:18.6px;line-height:18.6px;transform:scaleX(0.9809);"><span style="font-size:18.6px;">One patient was without information on daily doses of antipsychotic drugs, and 6 patients were without information on daily</span></div>
<div class="t" style="left:10.76px;top:844.70px;font-size:18.6px;line-height:18.6px;transform:scaleX(0.9517);"><span style="font-size:18.6px;">doses of benzodiazepine drugs; 217 received quetiapine, 56 received olanzapine, 176 received risperidone, and 77 received</span></div>
<div class="t" style="left:10.22px;top:866.20px;font-size:18.6px;line-height:18.6px;transform:scaleX(0.9925);"><span style="font-size:18.6px;">haloperidol.</span></div>
<div class="t" style="left:11.17px;top:887.70px;font-size:18.6px;line-height:18.6px;transform:scaleX(0.9490);"><span style="font-size:18.6px;">Abbreviations: COPD = chronic obstructive pulmonary disease, IQR = interquartile range, SMD = standardized mean difference.</span></div>
</div>
</body></html>
